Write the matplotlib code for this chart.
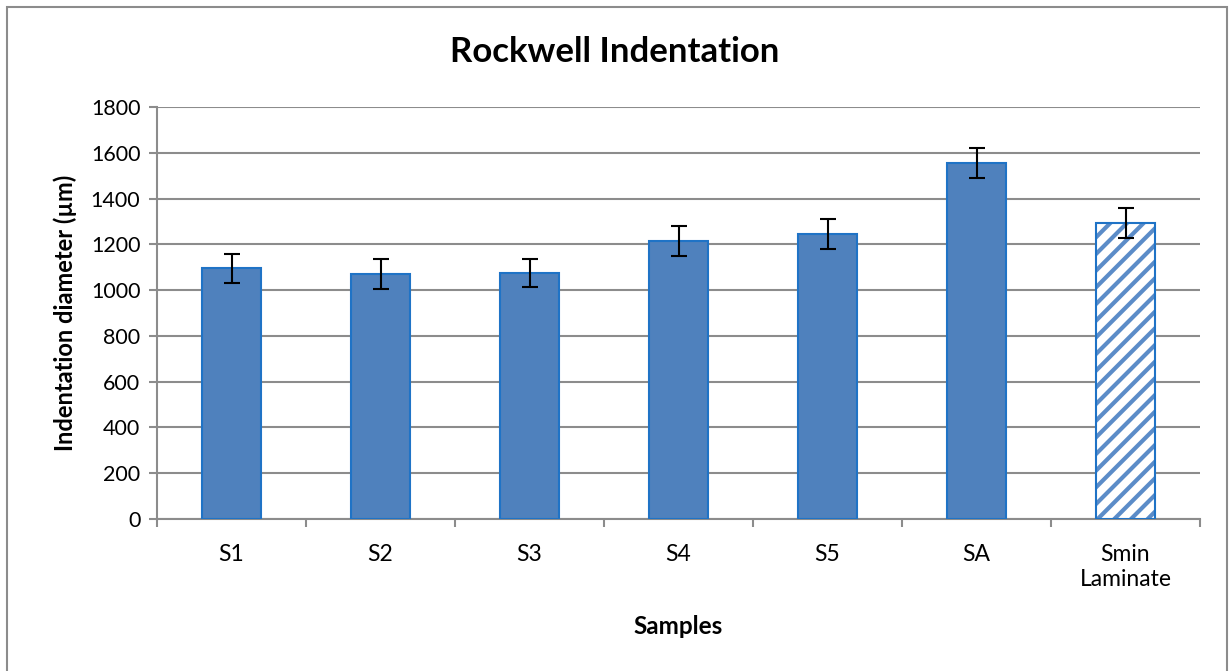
import matplotlib
matplotlib.use("Agg")
import matplotlib.pyplot as plt
from matplotlib.patches import Rectangle
import numpy as np

samples = ["S1", "S2", "S3", "S4", "S5", "SA", "Smin\nLaminate"]
diameters = [1096, 1070, 1075, 1215, 1245, 1555, 1293]
errors = [63, 65, 63, 65, 65, 65, 65]
y_ticks = [0, 200, 400, 600, 800, 1000, 1200, 1400, 1600, 1800]

plt.rcParams["font.family"] = ["Lato", "DejaVu Sans"]
plt.rcParams["hatch.linewidth"] = 3.0

fill_blue = "#4F81BD"
edge_blue = "#1F73C6"
grid_gray = "#8C8C8C"

fig = plt.figure(figsize=(12.3, 6.71), dpi=100)
ax = fig.add_axes([157 / 1230, 1 - 519 / 671, (1200 - 157) / 1230, (519 - 107) / 671])

x = np.arange(len(samples))
width = 0.4

# solid bars for the samples
ax.bar(x[:-1], diameters[:-1], width=width, color=fill_blue,
       edgecolor=edge_blue, linewidth=1.5, zorder=3)
# striped bar for the laminate
ax.bar(x[-1], diameters[-1], width=width, color="white",
       edgecolor="#5B8CC8", hatch="//", linewidth=0, zorder=3)
ax.bar(x[-1], diameters[-1], width=width, color="none",
       edgecolor=edge_blue, linewidth=1.5, zorder=4)

ax.errorbar(x, diameters, yerr=errors, fmt="none", ecolor="black",
            elinewidth=1.5, capsize=6, capthick=1.5, zorder=5)

ax.set_xlim(-0.5, len(samples) - 0.5)
ax.set_ylim(0, 1800)
ax.set_yticks(y_ticks)
ax.yaxis.grid(True, color=grid_gray, linewidth=1.5, zorder=0)
ax.set_axisbelow(True)

ax.set_xticks(x)
ax.set_xticklabels(samples, fontsize=16.5, linespacing=1.25)
ax.set_xticks(np.arange(-0.5, len(samples)), minor=True)
ax.tick_params(axis="x", which="major", length=0, pad=18)
ax.tick_params(axis="x", which="minor", length=6, width=1.5, color=grid_gray)
ax.tick_params(axis="y", length=6, width=1.5, color=grid_gray, labelsize=15.5, pad=6)

for side in ["top", "right"]:
    ax.spines[side].set_visible(False)
for side in ["left", "bottom"]:
    ax.spines[side].set_color(grid_gray)
    ax.spines[side].set_linewidth(1.5)

ax.set_xlabel("Samples", fontsize=17.5, fontweight="bold", labelpad=18)
ax.set_ylabel("Indentation diameter (µm)", fontsize=17, fontweight="bold", labelpad=10)
fig.text(0.5, 1 - 52 / 671, "Rockwell Indentation", fontsize=25,
         fontweight="bold", ha="center", va="center")

# chart frame
fig.patches.append(Rectangle((7 / 1230, -0.05), (1227 - 7) / 1230, 1.05 - 7 / 671,
                             transform=fig.transFigure, fill=False,
                             edgecolor=grid_gray, linewidth=1.5))

fig.savefig("out.png", dpi=100, facecolor="white")
